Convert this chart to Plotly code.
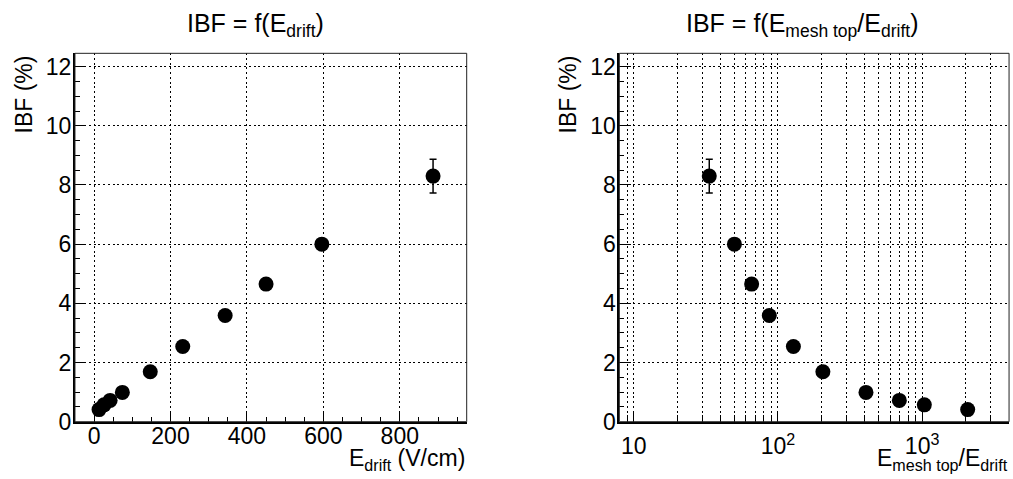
import plotly.graph_objects as go

# ---- data ----
e_drift = [887, 596, 450, 343, 232, 147, 74, 42, 26, 13]          # V/cm
ibf = [8.30, 6.00, 4.65, 3.59, 2.54, 1.69, 0.99, 0.72, 0.57, 0.41]  # %
ibf_err = [0.57, 0, 0, 0, 0, 0, 0, 0, 0, 0]
field_ratio = [33.4, 49.9, 65.7, 87.1, 128, 205, 408, 695, 1036, 2070]

left_xticks = [0, 200, 400, 600, 800]
y_ticks = [0, 2, 4, 6, 8, 10, 12]
log_major = [10, 100, 1000]
log_major_text = ["10", "10<sup>2</sup>", "10<sup>3</sup>"]
log_minor = [8, 9, 20, 30, 40, 50, 60, 70, 80, 90, 200, 300, 400, 500, 600, 700, 800, 900, 2000, 3000]

FONT = "Liberation Sans, Arial, Helvetica, sans-serif"
DOT = "2px,2.7px"

fig = go.Figure()

marker = dict(color="black", size=15, symbol="circle")
err = dict(type="data", array=ibf_err, visible=True, color="black", thickness=1.5, width=3.5)

fig.add_trace(go.Scatter(x=e_drift, y=ibf, mode="markers", marker=marker,
                         error_y=err, xaxis="x", yaxis="y", showlegend=False))
fig.add_trace(go.Scatter(x=field_ratio, y=ibf, mode="markers", marker=marker,
                         error_y=err, xaxis="x2", yaxis="y2", showlegend=False))

yb, yt = 0.1196, 0.8887
tickfont = dict(family=FONT, size=23, color="black")
common_axis = dict(showline=True, linecolor="black", linewidth=2, ticks="inside",
                   tickcolor="black", tickwidth=1, showgrid=True, gridcolor="black",
                   gridwidth=1, griddash=DOT, zeroline=False, tickfont=tickfont,
                   automargin=False)

yaxis_common = dict(common_axis, range=[0, 12.45], tickmode="array", tickvals=y_ticks,
                    ticklen=10, ticklabelstandoff=-3,
                    minor=dict(dtick=0.5, ticks="inside", ticklen=5, tickcolor="black",
                               showgrid=False))

fig.update_layout(
    width=1013, height=479,
    margin=dict(l=0, r=0, t=0, b=0),
    paper_bgcolor="white", plot_bgcolor="white",
    font=dict(family=FONT, color="black"),
    xaxis=dict(common_axis, domain=[0.0740, 0.4607], range=[-50, 975],
               tickmode="array", tickvals=left_xticks, ticklen=10, ticklabelstandoff=-7,
               minor=dict(dtick=50, tick0=0, ticks="inside", ticklen=5,
                          tickcolor="black", showgrid=False),
               anchor="y"),
    yaxis=dict(yaxis_common, domain=[yb, yt], anchor="x"),
    xaxis2=dict(common_axis, type="log", domain=[0.6114, 0.9961], range=[0.9, 3.603],
                tickmode="array", tickvals=log_major, ticktext=log_major_text, ticklen=10,
                ticklabelstandoff=3,
                minor=dict(tickmode="array", tickvals=log_minor, ticks="inside", ticklen=5,
                           tickcolor="black", showgrid=True, gridcolor="black",
                           griddash=DOT, gridwidth=1),
                anchor="y2"),
    yaxis2=dict(yaxis_common, domain=[yb, yt], anchor="x2"),
)

# thin frame on top/right
for xd in ([0.0740, 0.4607], [0.6114, 0.9961]):
    fig.add_shape(type="rect", xref="paper", yref="paper", x0=xd[0], x1=xd[1],
                  y0=yb, y1=yt, line=dict(color="#222", width=1), layer="above")

ann_font = dict(family=FONT, size=23, color="black")
title_font = dict(family=FONT, size=25, color="black")
annotations = [
    dict(text="IBF = f(E<sub>drift</sub>)", x=256 / 1013, y=1 - 7 / 479,
         xanchor="center", yanchor="top", font=title_font),
    dict(text="IBF = f(E<sub>mesh top</sub>/E<sub>drift</sub>)", x=802 / 1013, y=1 - 7 / 479,
         xanchor="center", yanchor="top", font=title_font),
    dict(text="IBF (%)", x=24 / 1013, y=1 - 94.5 / 479, textangle=-90,
         xanchor="center", yanchor="middle", font=ann_font),
    dict(text="IBF (%)", x=568 / 1013, y=1 - 94.5 / 479, textangle=-90,
         xanchor="center", yanchor="middle", font=ann_font),
    dict(text="E<sub>drift</sub> (V/cm)", x=467 / 1013, y=1 - 443 / 479,
         xanchor="right", yanchor="top", font=ann_font),
    dict(text="E<sub>mesh top</sub>/E<sub>drift</sub>", x=1010 / 1013, y=1 - 443 / 479,
         xanchor="right", yanchor="top", font=ann_font),
]
for a in annotations:
    a.update(xref="paper", yref="paper", showarrow=False)
fig.update_layout(annotations=annotations)

fig.write_html("out.html", config={"displayModeBar": False},
               post_script="document.body.style.margin='0';")
